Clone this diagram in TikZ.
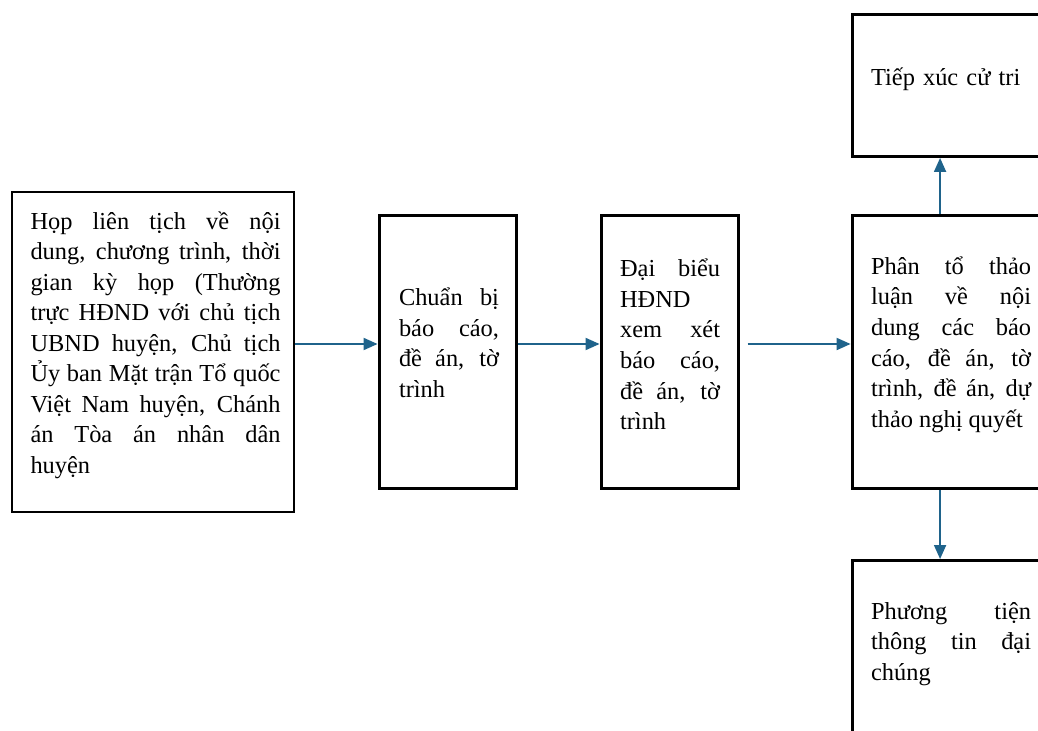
\documentclass[tikz,border=0pt]{standalone}
\usepackage{fontspec}
\setmainfont{Liberation Serif}
\usetikzlibrary{arrows.meta,positioning}
\definecolor{arrowblue}{RGB}{31,99,139}
\newcommand{\boxfont}{\fontsize{18.3}{22.9}\selectfont}
\tikzstyle{block} = [rectangle, draw, line width=2.2pt, inner sep=0pt]
\tikzstyle{txt} = [inner sep=0pt, align=justify, font=\boxfont,
execute at begin node={\hyphenpenalty=10000 \tolerance=10000 \relax}]
\tikzstyle{line} = [draw, arrowblue, line width=1.4pt, -{Triangle[length=10.5pt,width=9pt]}]
\begin{document}
\begin{tikzpicture}
\path[use as bounding box, clip] (0,0) rectangle (778.5pt,-548.25pt);
% Place nodes
\node [block, minimum width=211.5pt, minimum height=240pt] (i1) at (114.75pt,-264pt) {};
\node [block, minimum width=102.75pt, minimum height=204.75pt, right of=i1, node distance=220.9pt] (i2) {};
\node [block, minimum width=102.75pt, minimum height=204.75pt, right of=i2, node distance=166.5pt] (i3) {};
\node [block, minimum width=150pt, minimum height=204.75pt, right of=i3, node distance=211.9pt] (i4) {};
\node [block, minimum width=150pt, minimum height=106.5pt, above of=i4, node distance=199.9pt] (i5) {};
\node [block, minimum width=150pt, minimum height=131.25pt, below of=i4, node distance=222pt] (i6) {};

% Texts
\node [txt, text width=187.5pt] (l1) at ([xshift=1.9pt,yshift=5.2pt]i1.center) {Họp liên tịch về nội\linebreak dung, chương trình, thời\linebreak gian kỳ họp (Thường\linebreak trực HĐND với chủ tịch\linebreak UBND huyện, Chủ tịch\linebreak Ủy ban Mặt trận Tổ quốc\linebreak Việt Nam huyện, Chánh\linebreak án Tòa án nhân dân\linebreak huyện};
\node [txt, text width=75pt] (l2) at ([xshift=1.1pt,yshift=6.8pt]i2.center) {Chuẩn bị\linebreak báo cáo,\linebreak đề án, tờ\linebreak trình};
\node [txt, text width=75pt] (l3) at ([xshift=0.4pt,yshift=5.6pt]i3.center) {Đại biểu\linebreak HĐND\linebreak xem xét\linebreak báo cáo,\linebreak đề án, tờ\linebreak trình};
\node [txt, text width=120pt] (l4) at ([xshift=-0.75pt,yshift=5.6pt]i4.center) {Phân tổ thảo\linebreak luận về nội\linebreak dung các báo\linebreak cáo, đề án, tờ\linebreak trình, đề án, dự\linebreak thảo nghị quyết};
\node [txt, text width=120pt, align=left] (l5) at ([xshift=-0.75pt,yshift=4.6pt]i5.center) {Tiếp xúc cử tri};
\node [txt, text width=120pt] (l6) at ([xshift=-0.75pt,yshift=3.2pt]i6.center) {Phương tiện\linebreak thông tin đại\linebreak chúng};

% Draw edges
\path [line] ([yshift=6pt]i1.east) -- ([yshift=6pt]i2.west);
\path [line] ([yshift=6pt]i2.east) -- ([yshift=6pt]i3.west);
\path [line] ([xshift=6pt,yshift=6pt]i3.east) -- ([yshift=6pt]i4.west);
\path [line] ([xshift=-9pt]i4.north) -- ([xshift=-9pt]i5.south);
\path [line] ([xshift=-9pt]i4.south) -- ([xshift=-9pt]i6.north);
\end{tikzpicture}
\end{document}
